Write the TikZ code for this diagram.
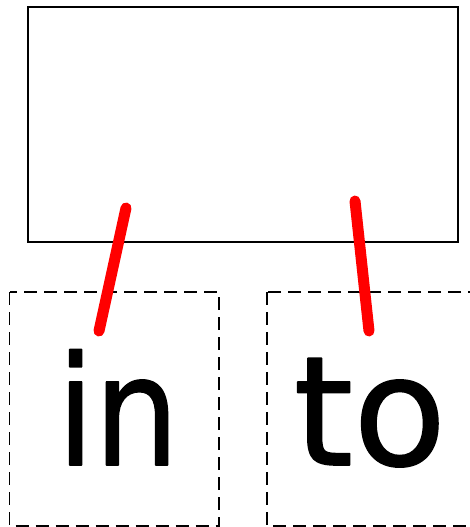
\documentclass[tikz,border=0pt]{standalone}
\usepackage{fontspec}
\newfontfamily\wordfont{DejaVu Sans}
\newcommand{\boldword}[1]{\special{pdf:literal 2 Tr 1.6 w 1 J 1 j}#1\special{pdf:literal 0 Tr}}
\begin{document}
\begin{tikzpicture}[x=1pt,y=-1pt,
  solidbox/.style={draw=black,line width=2pt,fill=white},
  cardbox/.style={draw=black,line width=1.4pt,dash pattern=on 13pt off 7pt},
  word/.style={font=\wordfont\fontsize{152}{152}\selectfont,anchor=base,inner sep=0pt},
  redline/.style={draw=red,line width=11pt,line cap=round}]
\useasboundingbox (0,0) rectangle (469,527);
\fill[white] (0,0) rectangle (469,527);
\node[solidbox,minimum width=430pt,minimum height=235pt,inner sep=0pt] (top) at (243,124.5) {};
\path[cardbox] (9.5,292) rectangle (219,526);
\node[inner sep=0pt,minimum width=209.5pt,minimum height=234pt] (cardL) at (114.25,409) {};
\path[cardbox] (267,292) rectangle (490,526);
\node[inner sep=0pt,minimum width=223pt,minimum height=234pt] (cardR) at (378.5,409) {};
\node[word,xscale=0.88] (in) at (118,465) {\boldword{in}};
\node[word] (to) at (370,465) {\boldword{to}};
\coordinate (a1) at (126,208);
\coordinate (a2) at (99,331);
\coordinate (b1) at (355,201);
\coordinate (b2) at (369,331);
\draw[redline] (a1) -- (a2);
\draw[redline] (b1) -- (b2);
\end{tikzpicture}
\end{document}
